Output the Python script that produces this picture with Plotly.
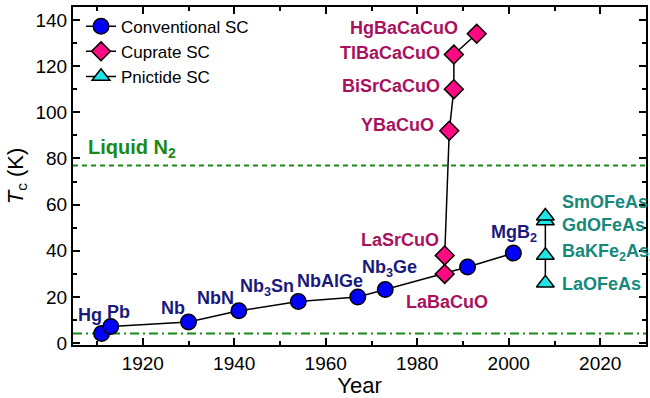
import plotly.graph_objects as go

# Conventional (BCS-type) superconductors
conv_year = [1911, 1913, 1930, 1941, 1954, 1967, 1973, 1991, 2001]
conv_tc = [4.2, 7.2, 9.2, 14, 18, 20, 23.2, 33, 39]
conv_names = ["Hg", "Pb", "Nb", "NbN", "Nb<sub>3</sub>Sn", "NbAlGe",
              "Nb<sub>3</sub>Ge", "", "MgB<sub>2</sub>"]

# Cuprate superconductors
cup_year = [1986, 1986, 1987, 1988, 1988, 1993]
cup_tc = [30, 38, 92, 110, 125, 134]
cup_names = ["LaBaCuO", "LaSrCuO", "YBaCuO", "BiSrCaCuO", "TlBaCaCuO", "HgBaCaCuO"]

# Iron pnictide superconductors
pn_year = [2008, 2008, 2008, 2008]
pn_tc = [26, 38, 53, 55]
pn_names = ["LaOFeAs", "BaKFe<sub>2</sub>As<sub>2</sub>", "GdOFeAs", "SmOFeAs"]

# Reference temperatures
liquid_n2 = 77
liquid_he = 4.2

x_ticks = [1920, 1940, 1960, 1980, 2000, 2020]
y_ticks = [0, 20, 40, 60, 80, 100, 120, 140]

FONT = "Liberation Sans, Arial, sans-serif"
C_CONV = "#1a1a7e"
C_CUP = "#a8125e"
C_PN = "#16897c"
C_GREEN = "#188a18"

fig = go.Figure()

fig.add_trace(go.Scatter(
    x=conv_year, y=conv_tc, mode="lines+markers", name="Conventional SC",
    line=dict(color="black", width=1.5),
    marker=dict(symbol="circle", size=15.5, color="#0000ff",
                line=dict(color="black", width=1.5)),
))
fig.add_trace(go.Scatter(
    x=cup_year, y=cup_tc, mode="lines+markers", name="Cuprate SC",
    line=dict(color="black", width=1.5),
    marker=dict(symbol="diamond", size=14.5, color="#ff0a82",
                line=dict(color="black", width=1.5)),
))
fig.add_trace(go.Scatter(
    x=pn_year, y=pn_tc, mode="lines+markers", name="Pnictide SC",
    line=dict(color="black", width=1.5),
    marker=dict(symbol="triangle-up", size=15.5, color="#1ee6e6",
                line=dict(color="black", width=1.5)),
))

# Horizontal reference lines: liquid nitrogen and liquid helium
fig.add_shape(type="line", xref="paper", x0=0, x1=1, yref="y",
              y0=liquid_n2, y1=liquid_n2, layer="below",
              line=dict(color=C_GREEN, width=2, dash="5px,4px"))
fig.add_shape(type="line", xref="paper", x0=0, x1=1, yref="y",
              y0=liquid_he, y1=liquid_he, layer="below",
              line=dict(color=C_GREEN, width=2, dash="9px,4px,2px,4px"))

# Label placement (pixel shifts relative to each marker)
conv_shift = [(-12, 18, "center"), (8, 15, "center"), (-16, 14, "center"),
              (-23, 13, "center"), (-31, 14, "center"), (-28, 16, "center"),
              (4, 21, "center"), (0, 0, "center"), (1, 20, "center")]
cup_shift = [(2, -28, "center"), (-4, 15, "right"), (-13, 6, "right"),
             (-12, 3, "right"), (-12, 2, "right"), (-17, 6, "right")]
pn_shift = [(15, -1, "left"), (15, 3, "left"), (15, -4, "left"), (15, 14, "left")]

annotations = []
for xs, ys, names, shifts, col in [
    (conv_year, conv_tc, conv_names, conv_shift, C_CONV),
    (cup_year, cup_tc, cup_names, cup_shift, C_CUP),
    (pn_year, pn_tc, pn_names, pn_shift, C_PN),
]:
    for xv, yv, nm, (dx, dy, anc) in zip(xs, ys, names, shifts):
        if not nm:
            continue
        annotations.append(dict(
            x=xv, y=yv, xref="x", yref="y", text=f"<b>{nm}</b>",
            showarrow=False, xanchor=anc, yanchor="middle",
            xshift=dx, yshift=dy,
            font=dict(family=FONT, size=18, color=col),
        ))

annotations.append(dict(
    x=1907.6, y=liquid_n2, xref="x", yref="y",
    text="<b>Liquid N<sub>2</sub></b>", showarrow=False,
    xanchor="left", yanchor="middle", yshift=17,
    font=dict(family=FONT, size=20, color=C_GREEN),
))

axis_common = dict(
    showline=True, linecolor="black", linewidth=2, mirror="ticks",
    ticks="inside", ticklen=7, tickwidth=2, tickcolor="black",
    showgrid=False, zeroline=False,
    tickfont=dict(family=FONT, size=19, color="black"),
)

fig.update_layout(
    width=650, height=398,
    margin=dict(l=73, r=2, t=7, b=53),
    plot_bgcolor="white", paper_bgcolor="white",
    font=dict(family=FONT, color="black"),
    showlegend=True,
    legend=dict(x=0.014, y=0.995, xanchor="left", yanchor="top",
                bgcolor="rgba(0,0,0,0)", borderwidth=0,
                font=dict(family=FONT, size=17, color="black"),
                tracegroupgap=0, itemwidth=30),
    annotations=annotations,
    xaxis=dict(
        range=[1904.75, 2030], tickvals=x_ticks,
        minor=dict(dtick=10, tick0=1900, ticks="inside", ticklen=4,
                   tickwidth=2, tickcolor="black"),
        title=dict(text="Year", font=dict(family=FONT, size=22), standoff=4),
        **axis_common,
    ),
    yaxis=dict(
        range=[-0.8, 145.6], tickvals=y_ticks,
        minor=dict(dtick=10, tick0=0, ticks="inside", ticklen=4,
                   tickwidth=2, tickcolor="black"),
        title=dict(text="<i>T</i><sub>c</sub> (K)",
                   font=dict(family=FONT, size=22), standoff=6),
        **axis_common,
    ),
)

fig.write_html("out.html")
